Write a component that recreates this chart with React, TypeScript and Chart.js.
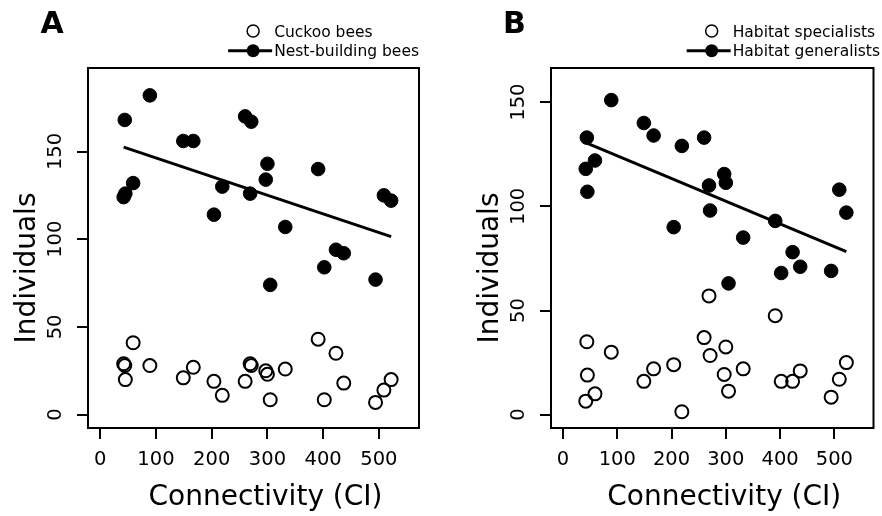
import React, { useEffect, useRef } from "react";
import { Chart, registerables } from "chart.js";

Chart.register(...registerables);

// ---- data ----
const connectivity = [42, 44, 45, 59, 89, 149, 167, 204, 219, 260, 269, 271, 297, 300, 305, 332, 391, 402, 423, 437, 494, 509, 522];
const nestBuildingBees = [124, 168, 126, 132, 182, 156, 156, 114, 130, 170, 126, 167, 134, 143, 74, 107, 140, 84, 94, 92, 77, 125, 122];
const cuckooBees = [29, 28, 20, 41, 28, 21, 27, 19, 11, 19, 29, 28, 25, 23, 8.5, 26, 43, 8.5, 35, 18, 7, 14, 20];
const habitatGeneralists = [118, 133, 107, 122, 151, 140, 134, 90, 129, 133, 110, 98, 115.5, 111.3, 63, 85, 93, 68, 78, 71, 69, 108, 97];
const habitatSpecialists = [6.5, 35, 19, 10, 30, 16, 22, 24, 1.4, 37, 57, 28.4, 19.3, 32.5, 11.3, 22, 47.5, 16, 16, 21, 8.4, 17, 25];
const fitA = [152.5, 101.5];
const fitB = [130.6, 78.3];
const xTicks = [0, 100, 200, 300, 400, 500];
const yTicks = [0, 50, 100, 150];

const FONT = '"DejaVu Sans", sans-serif';

type PanelCfg = {
  letter: string;
  letterX: number;
  openLabel: string;
  filledLabel: string;
  open: number[];
  filled: number[];
  fit: number[];
  yMin: number;
  yMax: number;
  yAxisWidth: number;
  padRight: number;
  legendRight: number;
};

const xy = (xs: number[], ys: number[]) => xs.map((x, i) => ({ x, y: ys[i] }));

const decor = (cfg: PanelCfg) => ({
  id: "decor",
  afterDraw(chart: any) {
    const { ctx, chartArea: a } = chart;
    ctx.save();
    ctx.strokeStyle = "#000";
    ctx.fillStyle = "#000";
    ctx.lineWidth = 2;
    ctx.strokeRect(a.left, a.top, a.right - a.left, a.bottom - a.top);

    // panel letter
    ctx.font = `bold 30px ${FONT}`;
    ctx.textAlign = "left";
    ctx.textBaseline = "alphabetic";
    ctx.fillText(cfg.letter, cfg.letterX, 33.3);

    // legend
    ctx.font = `15.5px ${FONT}`;
    const w = Math.max(ctx.measureText(cfg.openLabel).width, ctx.measureText(cfg.filledLabel).width);
    const tx = cfg.legendRight - w;
    const sx = tx - 21;
    const r1 = 31;
    const r2 = 50.7;
    ctx.beginPath();
    ctx.arc(sx, r1, 6, 0, Math.PI * 2);
    ctx.lineWidth = 1.5;
    ctx.stroke();
    ctx.fillText(cfg.openLabel, tx, r1 + 5.6);
    ctx.beginPath();
    ctx.moveTo(sx - 25, r2);
    ctx.lineTo(tx - 2, r2);
    ctx.lineWidth = 3;
    ctx.stroke();
    ctx.beginPath();
    ctx.arc(sx, r2, 6.5, 0, Math.PI * 2);
    ctx.fill();
    ctx.fillText(cfg.filledLabel, tx, r2 + 5.6);

    // axis titles
    ctx.font = `28px ${FONT}`;
    ctx.textAlign = "center";
    ctx.fillText("Connectivity (CI)", (a.left + a.right) / 2 + 12, 505);
    ctx.save();
    ctx.translate(a.left - 53, (a.top + a.bottom) / 2 + 20);
    ctx.rotate(-Math.PI / 2);
    ctx.fillText("Individuals", 0, 0);
    ctx.restore();
    ctx.restore();
  },
});

function Panel({ cfg, left }: { cfg: PanelCfg; left: number }) {
  const ref = useRef<HTMLCanvasElement | null>(null);
  useEffect(() => {
    if (!ref.current) return;
    const xMinFit = Math.min(...connectivity);
    const xMaxFit = Math.max(...connectivity);
    const tickFont = { family: FONT, size: 19.5 };
    const grid = {
      display: true,
      drawOnChartArea: false,
      drawTicks: true,
      tickLength: 11,
      color: "#000",
      lineWidth: 2,
    };
    const chart = new Chart(ref.current, {
      type: "scatter",
      data: {
        datasets: [
          {
            data: xy(connectivity, cfg.open),
            pointRadius: 6.5,
            pointBorderWidth: 2,
            pointBorderColor: "#000",
            pointBackgroundColor: "rgba(0,0,0,0)",
            showLine: false,
          },
          {
            data: xy(connectivity, cfg.filled),
            pointRadius: 6.8,
            pointBorderWidth: 1,
            pointBorderColor: "#000",
            pointBackgroundColor: "#000",
            showLine: false,
          },
          {
            data: [
              { x: xMinFit, y: cfg.fit[0] },
              { x: xMaxFit, y: cfg.fit[1] },
            ],
            showLine: true,
            borderColor: "#000",
            borderWidth: 3,
            pointRadius: 0,
            fill: false,
          },
        ],
      } as any,
      options: {
        responsive: false,
        animation: false,
        devicePixelRatio: 1,
        layout: { padding: { left: 0, right: cfg.padRight, top: 68, bottom: 0 } },
        plugins: {
          legend: { display: false },
          tooltip: { enabled: false },
          title: { display: false },
        },
        scales: {
          x: {
            type: "linear",
            position: "bottom",
            min: -22,
            max: 572,
            afterBuildTicks: (s: any) => {
              s.ticks = xTicks.map((v) => ({ value: v }));
            },
            afterFit: (s: any) => {
              s.height = 516 - 428;
            },
            grid,
            border: { display: false },
            ticks: {
              color: "#000",
              font: tickFont,
              padding: 8.8,
              autoSkip: false,
              minRotation: 0,
              maxRotation: 0,
            },
          },
          y: {
            type: "linear",
            min: cfg.yMin,
            max: cfg.yMax,
            afterBuildTicks: (s: any) => {
              s.ticks = yTicks.map((v) => ({ value: v }));
            },
            afterFit: (s: any) => {
              s.width = cfg.yAxisWidth;
            },
            grid,
            border: { display: false },
            ticks: {
              color: "#000",
              font: tickFont,
              padding: 2.7,
              autoSkip: false,
              minRotation: 90,
              maxRotation: 90,
              crossAlign: "center",
            },
          },
        },
      } as any,
      plugins: [decor(cfg)],
    });
    return () => chart.destroy();
  }, [cfg]);
  return (
    <div style={{ position: "absolute", left, top: 0, width: 441, height: 516 }}>
      <canvas ref={ref} width={441} height={516} style={{ display: "block" }} />
    </div>
  );
}

const panelA: PanelCfg = {
  letter: "A",
  letterX: 40.5,
  openLabel: "Cuckoo bees",
  filledLabel: "Nest-building bees",
  open: cuckooBees,
  filled: nestBuildingBees,
  fit: fitA,
  yMin: -7.6,
  yMax: 197.6,
  yAxisWidth: 88,
  padRight: 441 - 419,
  legendRight: 419,
};

const panelB: PanelCfg = {
  letter: "B",
  letterX: 62,
  openLabel: "Habitat specialists",
  filledLabel: "Habitat generalists",
  open: habitatSpecialists,
  filled: habitatGeneralists,
  fit: fitB,
  yMin: -6.4,
  yMax: 166.4,
  yAxisWidth: 110,
  padRight: 1,
  legendRight: 439,
};

export default function App() {
  return (
    <div
      style={{
        position: "absolute",
        left: 0,
        top: 0,
        width: 882,
        height: 516,
        background: "#fff",
        overflow: "hidden",
      }}
    >
      <Panel cfg={panelA} left={0} />
      <Panel cfg={panelB} left={441} />
    </div>
  );
}
